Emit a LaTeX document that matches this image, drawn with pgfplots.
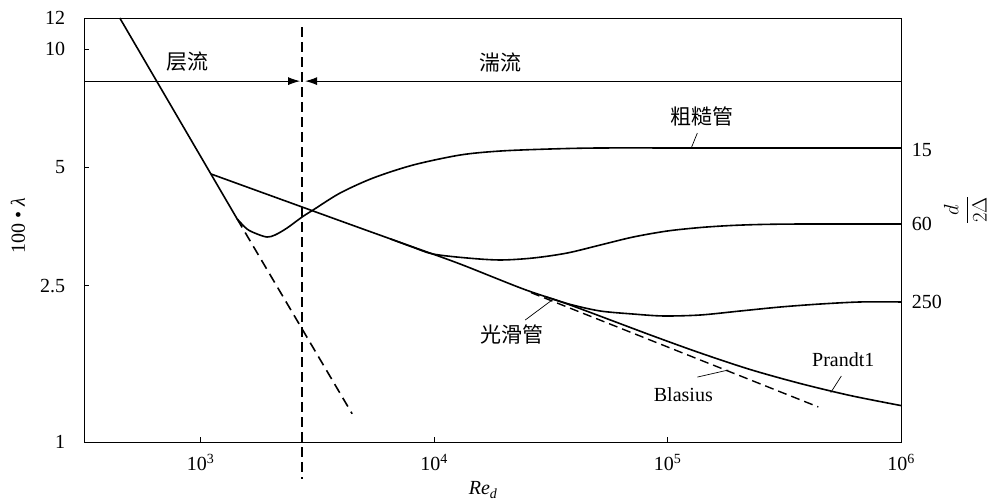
\documentclass[border=0pt]{standalone}
\usepackage{pgfplots}
\pgfplotsset{compat=1.18}
\usepackage{fontspec}
\setmainfont{Liberation Serif}
\newfontfamily\cjk{Noto Sans CJK SC}
\usetikzlibrary{arrows.meta}
\newcommand\fs{\fontsize{20}{23}\selectfont}
\newcommand\fc{\fontsize{21}{24}\selectfont\cjk}
\begin{document}
\fs
\begin{tikzpicture}
\useasboundingbox (-84pt,-59pt) rectangle (906pt,442pt);
\begin{axis}[
  at={(0,0)}, anchor=south west,
  scale only axis, width=817pt, height=424pt,
  xmode=log, ymode=log,
  xmin=316.23, xmax=1e6, ymin=1, ymax=12,
  clip=false,
  xtick={1000,10000,100000,1000000},
  xticklabels={10\textsuperscript{3},10\textsuperscript{4},10\textsuperscript{5},10\textsuperscript{6}},
  ytick={1,2.5,5,10,12},
  yticklabels={1,2.5,5,10,12},
  xminorticks=false, yminorticks=false,
  tick align=inside, xtick pos=bottom, ytick pos=left,
  major tick length=5pt,
  axis line style={line width=1pt},
  tick style={line width=1pt, black},
  tick label style={font=\fs},
  xticklabel style={yshift=-5pt},
  yticklabel style={xshift=-12pt},
]
% laminar
\addplot[line width=1.6pt] coordinates {(450,12) (1431,3.70)};
\addplot[line width=1.6pt, dash pattern=on 10pt off 6pt] coordinates {(1431,3.70) (4453,1.18)};
% rough pipe d/2Delta = 15
\addplot[line width=1.6pt, smooth] coordinates {
 (1431,3.70) (1579,3.484) (1744,3.384) (1924,3.325) (2083,3.365) (2344,3.505) (2719,3.739)
 (3029,3.895) (3955,4.302) (5477,4.698) (8128,5.070) (12924,5.376) (19186,5.503)
 (31412,5.569) (51450,5.602) (138040,5.602) (1000000,5.602)};
% Prandtl
\addplot[line width=1.6pt, smooth] coordinates {
 (1107,4.81) (2719,3.964) (4818,3.505) (8128,3.135) (12924,2.838) (24068,2.452)
 (38280,2.232) (84270,1.873) (138040,1.685) (226200,1.529) (370400,1.409)
 (606600,1.313) (1000000,1.238)};
% d/2Delta = 60
\addplot[line width=1.6pt, smooth] coordinates {
 (6477,3.29) (8128,3.13) (9902,3.009) (13848,2.94) (19186,2.906) (26574,2.94)
 (37154,3.027) (51450,3.172) (71270,3.325) (99680,3.444) (138040,3.515) (185600,3.556)
 (249500,3.578) (370400,3.588) (1000000,3.588)};
% d/2Delta = 250
\addplot[line width=1.6pt, smooth] coordinates {
 (29910,2.346) (38280,2.24) (51450,2.155) (71270,2.117) (95800,2.093) (138040,2.105)
 (204800,2.155) (304000,2.206) (451100,2.245) (669300,2.272) (1000000,2.272)};
% Blasius
\addplot[line width=1.4pt, dash pattern=on 9pt off 5pt] coordinates {(26000,2.40) (442300,1.228)};
% transition line
\addplot[line width=1.4pt, dash pattern=on 10pt off 5pt] coordinates {(2719,11.38) (2719,0.805)};
% arrows
\draw[line width=1pt, -{Latex[length=12pt,width=8pt]}] (axis cs:316.23,8.29) -- (axis cs:2666,8.29);
\draw[line width=1pt, -{Latex[length=12pt,width=8pt]}] (axis cs:1000000,8.29) -- (axis cs:2800,8.29);
% labels
\node at (axis cs:882,9.27) {\fc 层流};
\node at (axis cs:19186,9.27) {\fc 湍流};
\node at (axis cs:140800,6.72) {\fc 粗糙管};
\draw[line width=0.7pt] (axis cs:134100,6.115) -- (axis cs:126300,5.602);
\node at (axis cs:21590,1.883) {\fc 光滑管};
\draw[line width=0.7pt] (axis cs:24550,2.044) -- (axis cs:32030,2.299);
\node at (axis cs:116800,1.317) {Blasius};
\draw[line width=0.7pt] (axis cs:134100,1.463) -- (axis cs:182000,1.525);
\node at (axis cs:566000,1.617) {Prandt1};
\draw[line width=0.7pt] (axis cs:500000,1.336) -- (axis cs:555000,1.472);
\node[anchor=west, xshift=4pt] at (axis cs:1000000,5.536) {15};
\node[anchor=west, xshift=4pt] at (axis cs:1000000,3.588) {60};
\node[anchor=west, xshift=4pt] at (axis cs:1000000,2.272) {250};
\node[rotate=90] at (axis cs:1887000,3.895) {$\displaystyle\frac{d}{2\Delta}$};
\node[rotate=90] at (axis cs:164.9,3.547) {100 • \textit{λ}};
\node at (axis cs:16220,0.7546) {\textit{Re}\textsubscript{\textit{d}}};
\end{axis}
\end{tikzpicture}
\end{document}
